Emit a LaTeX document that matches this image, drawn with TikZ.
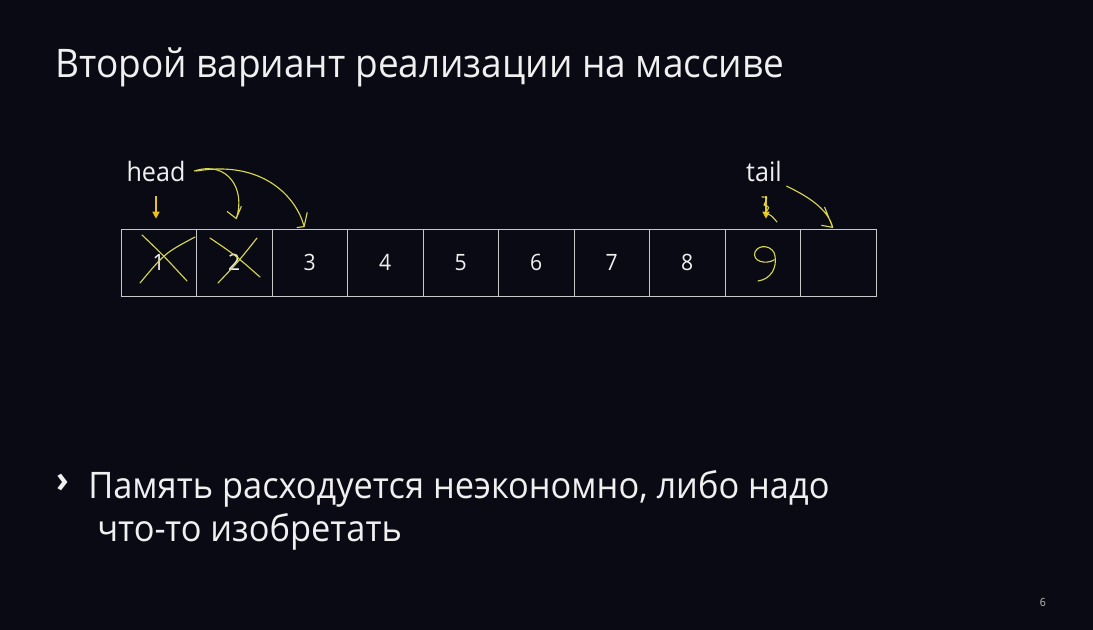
\documentclass[tikz,border=0pt]{standalone}
\usepackage{fontspec}
\setmainfont{Open Sans}[FakeStretch=0.94]
\usetikzlibrary{positioning, arrows.meta}
\definecolor{slidebg}{HTML}{0A0A14}
\definecolor{cellline}{HTML}{C8C8C8}
\definecolor{pengold}{HTML}{E8C21A}
\definecolor{penink}{HTML}{D8D850}

\begin{document}
\begin{tikzpicture}[x=0.025cm, y=-0.025cm, font=\fontsize{16}{19}\selectfont, text=white!94!black,
    cell/.style={draw=cellline, line width=0.6pt, minimum width=1.8875cm, minimum height=1.675cm, inner sep=0pt},
    ptr/.style={-{Triangle[length=5pt,width=5pt]}, pengold, line width=1pt},
    pen/.style={penink, line width=0.8pt, line cap=round, line join=round}]
    % Slide background
    \fill[slidebg] (0,0) rectangle (1093,630);
    \useasboundingbox (0,0) rectangle (1093,630);

    % Title
    \node[anchor=base west, inner sep=0pt, font=\fontsize{28}{34}\selectfont] (title) at (55,78) {Второй вариант реализации на массиве};

    % The array
    \foreach \v [count=\i] in {1,2,3,4,5,6,7,8,{},{}} {
        \node[cell] (c\i) at ({158.75+75.5*(\i-1)},262.5) {\v};
    }

    % Pointers
    \node[font=\fontsize{19}{22}\selectfont] (head) at (156,171) {head};
    \node[font=\fontsize{19}{22}\selectfont] (tail) at (764,171) {tail};
    \draw[ptr, shorten <=7pt, shorten >=7pt] (head.south) -- (head.south |- c1.north);
    \draw[ptr, shorten <=7pt, shorten >=7pt] ([xshift=0.05cm]tail.south) -- ([xshift=0.05cm]tail.south |- c9.north);

    % Handwritten marks: crossed out cells
    \draw[pen] (142,235) .. controls (162,254) .. (187,281);
    \draw[pen] (140,283) .. controls (165,253) .. (195,237);
    \draw[pen] (210,238) .. controls (235,255) .. (260,277);
    \draw[pen] (218,283) .. controls (238,262) .. (257,238);

    % Handwritten 9 and scribble
    \draw[pen] (758,281) .. controls (771,279) and (777,268) .. (775,256)
        .. controls (774,246) and (759,243) .. (755,252)
        .. controls (752,261) and (765,265) .. (774,260);
    \draw[pen] (762,197) .. controls (768,197) .. (764,205) .. controls (770,207) .. (765,213)
        .. controls (771,215) .. (777,222);

    % Handwritten moves of head and tail
    \draw[pen] ([xshift=0.1cm]head.east) .. controls (228,160) and (246,190) .. ([xshift=0.05cm, yshift=0.25cm]c2.north)
        -- ++(-9,-7) ++(9,7) -- ++(5,-12);
    \draw[pen] ([xshift=0.15cm]head.east) .. controls (262,160) and (296,196) .. ([xshift=-0.14cm, yshift=0.05cm]c3.north)
        -- ++(-7,1) ++(7,-1) -- ++(3,-14);
    \draw[pen] (tail.south east) .. controls (805,195) and (828,208) .. ([xshift=-0.14cm, yshift=0.03cm]c10.north)
        -- ++(-11,-2) ++(11,2) -- ++(-8,-20);

    % Bullet text
    \node[anchor=base west, inner sep=0pt, font=\bfseries\fontsize{26}{31}\selectfont] (mark) at (56,492) {›};
    \node[anchor=base west, inner sep=0pt, font=\fontsize{26}{31}\selectfont] (line1) at (88,498) {Память расходуется неэкономно, либо надо};
    \node[anchor=base west, inner sep=0pt, font=\fontsize{26}{31}\selectfont] (line2) at (97,541) {что-то изобретать};

    % Page number
    \node[font=\fontsize{8}{10}\selectfont, text=white!75!black] (page) at (1043,602) {6};
\end{tikzpicture}
\end{document}
